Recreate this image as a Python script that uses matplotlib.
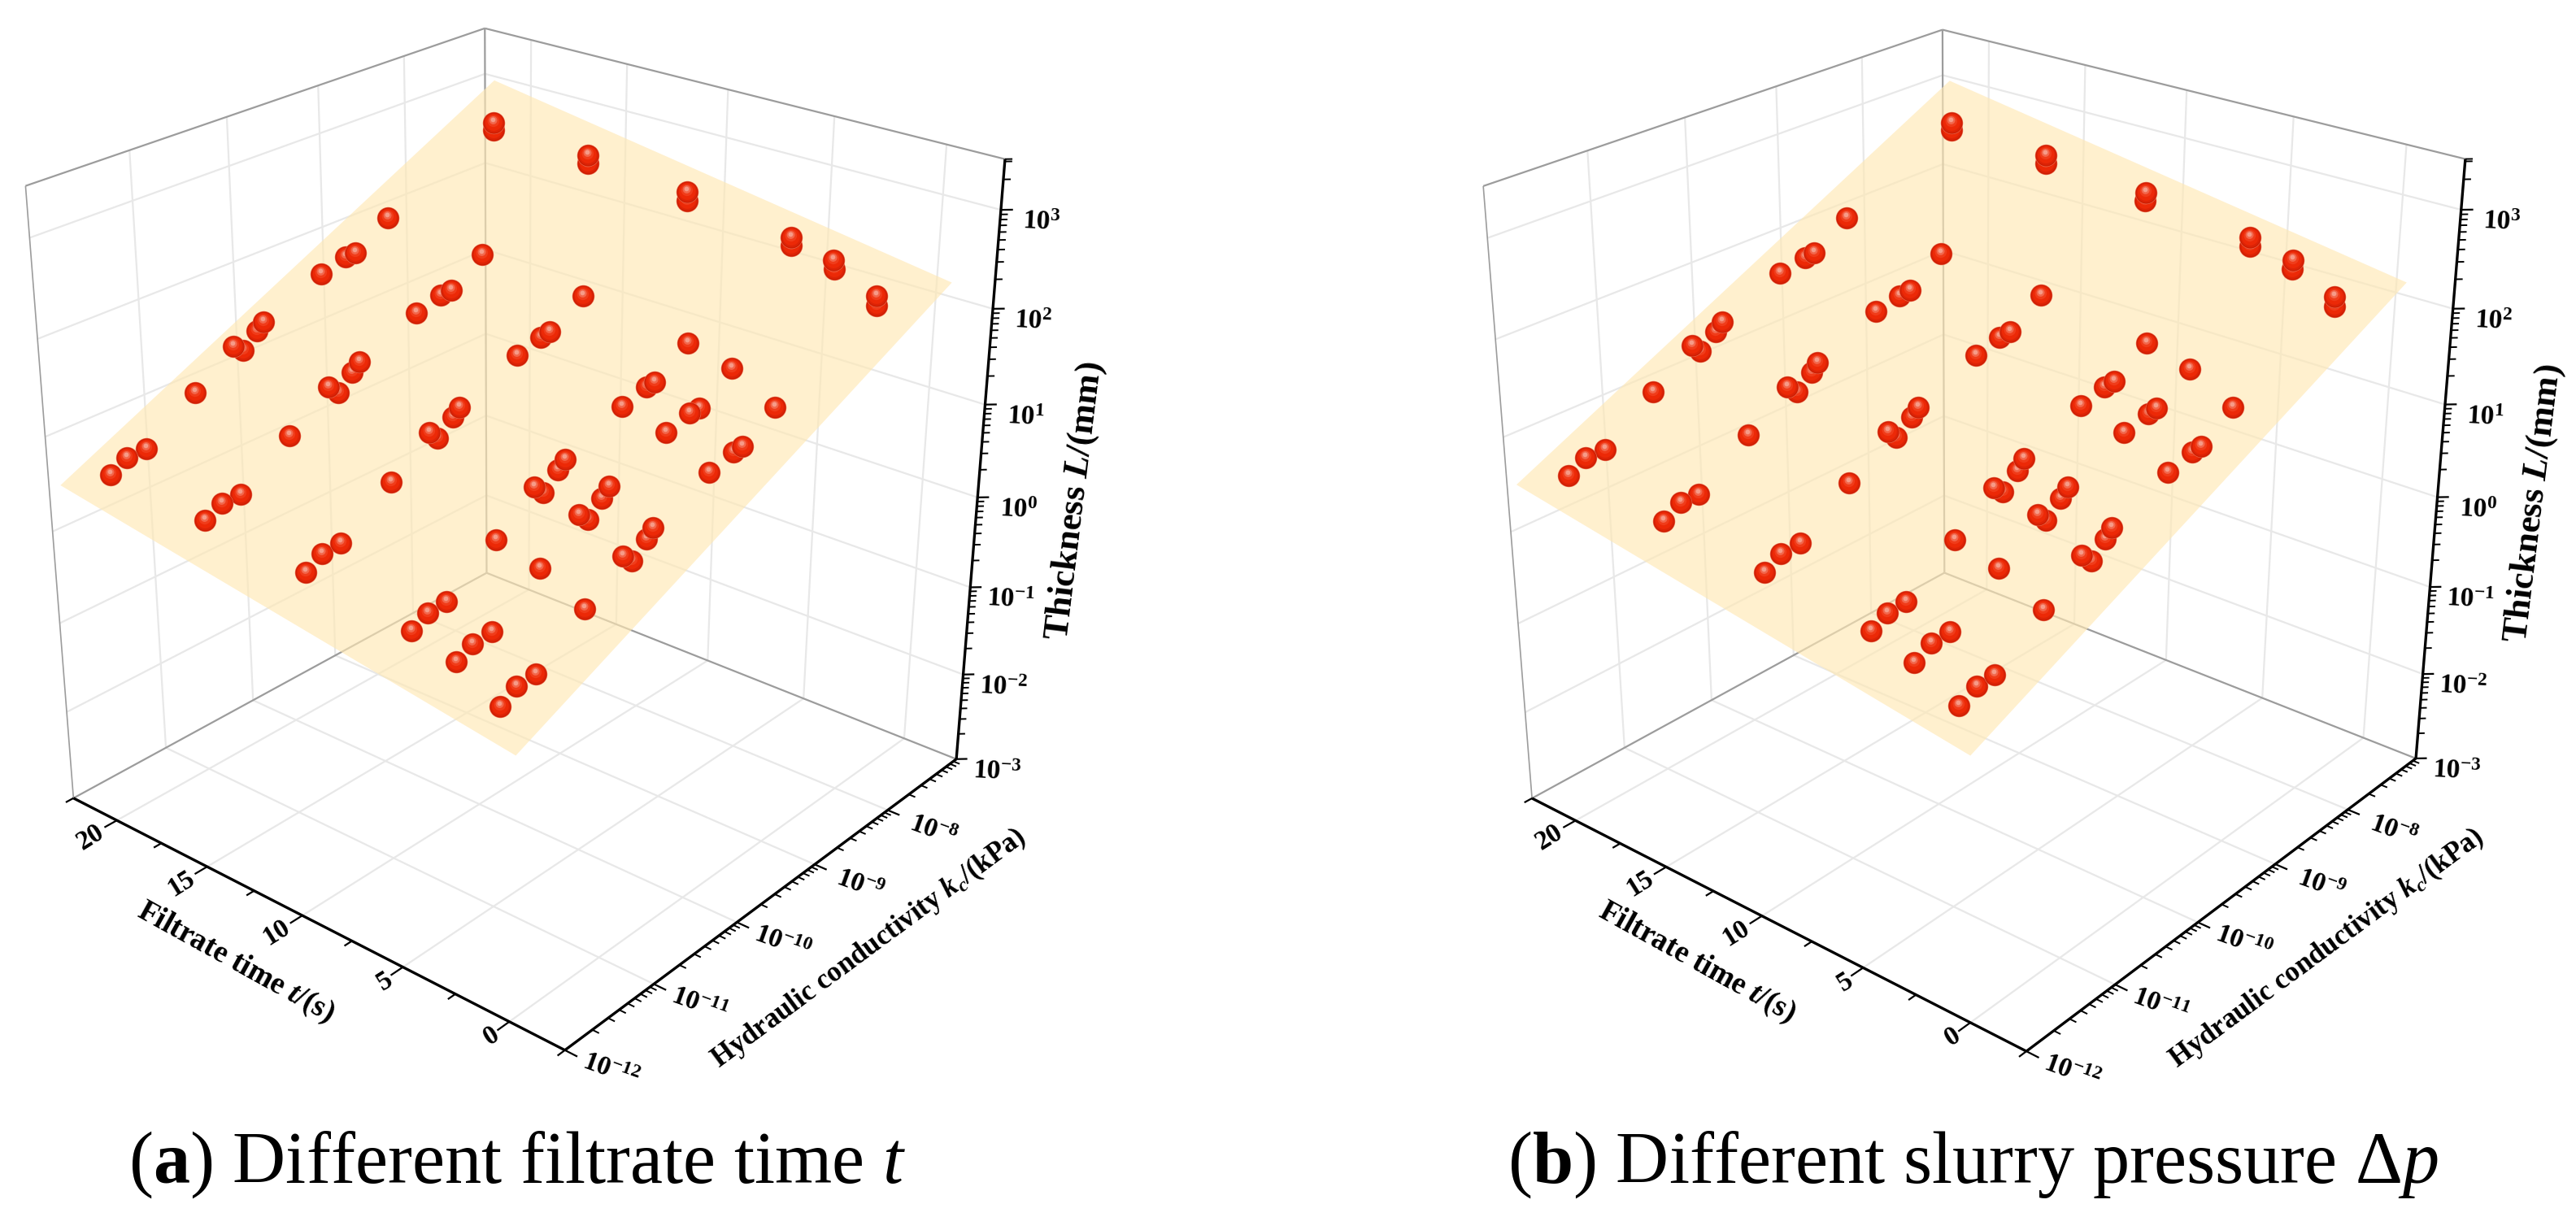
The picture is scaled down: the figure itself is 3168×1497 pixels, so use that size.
import numpy as np
import matplotlib
matplotlib.use('Agg')
import matplotlib.pyplot as plt
from matplotlib.path import Path
from mpl_toolkits.mplot3d import proj3d
from mpl_toolkits.mplot3d.art3d import Poly3DCollection

plt.rcParams['font.family'] = ['Liberation Serif', 'DejaVu Serif']
plt.rcParams['mathtext.fontset'] = 'custom'
plt.rcParams['mathtext.rm'] = 'Liberation Serif'
plt.rcParams['mathtext.it'] = 'Liberation Serif:italic'
plt.rcParams['mathtext.bf'] = 'Liberation Serif:bold'
plt.rcParams['mathtext.bfit'] = 'Liberation Serif:italic:bold'

W, H = 3168, 1497

# filtrate time of each row of the tables below (s)
time_s = [1, 3, 5, 10, 15, 20]

# log10 of hydraulic conductivity, panel a, one row per time
log_k_a = [
    [-7.52, -7.51, -8.79, -9.18, -9.29, -9.57, -10.22, -10.29, -10.55, -10.45, -10.97, -11.49, -11.69, -11.86],
    [-7.51, -7.50, -8.78, -9.17, -9.28, -9.56, -10.21, -10.29, -10.54, -10.44, -10.97, -11.48, -11.68, -11.85],
    [-7.51, -7.50, -8.79, -9.18, -9.28, -9.56, -10.21, -10.29, -10.55, -10.45, -10.96, -11.49, -11.68, -11.85],
    [-7.50, -7.49, -8.78, -9.17, -9.28, -9.55, -10.20, -10.27, -10.53, -10.44, -10.95, -11.48, -11.67, -11.84],
    [-7.49, -7.49, -8.78, -9.15, -9.27, -9.55, -10.19, -10.27, -10.53, -10.43, -10.95, -11.47, -11.66, -11.84],
    [-7.48, -7.48, -8.77, -9.15, -9.26, -9.54, -10.19, -10.26, -10.52, -10.42, -10.94, -11.46, -11.66, -11.83],
]
# log10 of thickness, panel a
log_l_a = [
    [2.10, 2.00, 1.50, 1.28, 1.27, 1.20, 0.96, 0.88, 0.84, 0.74, 0.53, 0.17, 0.16, 0.06],
    [2.33, 2.24, 1.74, 1.51, 1.51, 1.44, 1.20, 1.12, 1.08, 0.98, 0.76, 0.40, 0.39, 0.30],
    [2.44, 2.35, 1.86, 1.63, 1.62, 1.55, 1.31, 1.24, 1.19, 1.09, 0.87, 0.52, 0.51, 0.42],
    [2.60, 2.50, 2.00, 1.78, 1.77, 1.70, 1.45, 1.38, 1.34, 1.24, 1.03, 0.67, 0.66, 0.56],
    [2.69, 2.60, 2.10, 1.87, 1.86, 1.79, 1.54, 1.47, 1.43, 1.33, 1.11, 0.75, 0.75, 0.66],
    [2.75, 2.67, 2.17, 1.94, 1.93, 1.86, 1.61, 1.54, 1.49, 1.40, 1.18, 0.82, 0.82, 0.72],
]
log_k_b = [
    [-7.54, -7.53, -8.82, -9.20, -9.31, -9.60, -10.24, -10.31, -10.58, -10.47, -10.99, -11.51, -11.70, -11.88],
    [-7.52, -7.52, -8.81, -9.20, -9.30, -9.59, -10.23, -10.31, -10.56, -10.47, -10.99, -11.50, -11.70, -11.87],
    [-7.51, -7.51, -8.80, -9.19, -9.30, -9.58, -10.22, -10.30, -10.56, -10.46, -10.98, -11.50, -11.69, -11.86],
    [-7.50, -7.50, -8.79, -9.16, -9.28, -9.56, -10.21, -10.28, -10.54, -10.45, -10.96, -11.48, -11.68, -11.85],
    [-7.49, -7.49, -8.78, -9.15, -9.27, -9.54, -10.20, -10.26, -10.53, -10.43, -10.95, -11.48, -11.66, -11.84],
    [-7.48, -7.48, -8.76, -9.15, -9.25, -9.54, -10.19, -10.26, -10.52, -10.43, -10.94, -11.46, -11.65, -11.83],
]
log_l_b = [
    [2.10, 2.00, 1.51, 1.29, 1.28, 1.21, 0.97, 0.89, 0.86, 0.75, 0.54, 0.18, 0.17, 0.08],
    [2.34, 2.25, 1.75, 1.52, 1.51, 1.45, 1.20, 1.13, 1.09, 0.99, 0.77, 0.41, 0.41, 0.31],
    [2.44, 2.35, 1.86, 1.64, 1.63, 1.56, 1.32, 1.24, 1.19, 1.10, 0.88, 0.53, 0.52, 0.43],
    [2.60, 2.51, 2.01, 1.78, 1.77, 1.70, 1.45, 1.38, 1.35, 1.25, 1.03, 0.67, 0.67, 0.57],
    [2.70, 2.61, 2.11, 1.87, 1.86, 1.80, 1.54, 1.47, 1.43, 1.34, 1.12, 0.76, 0.76, 0.66],
    [2.76, 2.68, 2.17, 1.94, 1.93, 1.87, 1.61, 1.54, 1.50, 1.40, 1.19, 0.82, 0.82, 0.72],
]

# fitted plane corners (log k, time, log L)
plane_a = [(-6.88, 22.5, 2.89), (-11.89, 22.5, 0.44), (-12.53, -2.5, 0.32), (-7.62, -2.5, 2.51)]
plane_b = [(-6.91, 22.5, 2.91), (-11.91, 22.5, 0.46), (-12.60, -2.5, 0.37), (-7.70, -2.5, 2.54)]

# axis scales
k_lim = (-12, -7)
t_lim = (-2.5, 22.5)
l_lim = (-3, 3.5)
t_major = [0, 5, 10, 15, 20]
t_minor = [-2.5, 2.5, 7.5, 12.5, 17.5, 22.5]
k_major = [-12, -11, -10, -9, -8]
l_major = [-3, -2, -1, 0, 1, 2, 3]

GRID = '#e8e8e8'
EDGE = '#9c9c9c'

# ball shading: radius, centre offset, colour (outer to inner)
ball_layers = [
    (1.05, 0.00, 0.00, '#e8654a'),
    (1.00, 0.00, 0.00, '#cc1d02'),
    (0.92, 0.00, 0.02, '#dc2306'),
    (0.80, -0.02, 0.08, '#ec2907'),
    (0.56, -0.05, 0.20, '#f03c1a'),
    (0.38, -0.07, 0.27, '#f2674c'),
    (0.22, -0.08, 0.31, '#f69b88'),
]


def ball_markers(diam):
    # marker paths get rescaled by matplotlib, so work out the matching size
    out = []
    circle = Path.unit_circle()
    for r, cx, cy, col in ball_layers:
        v = circle.vertices * r + [cx, cy]
        out.append((Path(v, circle.codes), np.abs(v).max() * diam, col))
    return out


def minor_log(lo, hi):
    vals = []
    for d in range(int(np.floor(lo)), int(np.ceil(hi))):
        for m in range(2, 10):
            v = d + np.log10(m)
            if v < hi:
                vals.append(v)
    return vals


def draw_panel(pos, view, aspect, log_k, log_l, plane, tlabel_xy, klabel_xy, zlabel_xy, caption, caption_x):
    left, bottom, side = pos
    ax = fig.add_axes([left / W, bottom / H, side / W, side / H], projection='3d', computed_zorder=False)
    ax.set_axis_off()
    ax.patch.set_visible(False)
    ax.set_xlim(*k_lim)
    ax.set_ylim(*t_lim)
    ax.set_zlim(*l_lim)
    ax.set_box_aspect(aspect)
    ax.view_init(elev=view[0], azim=view[1], roll=view[2])
    ax.set_proj_type('persp', focal_length=view[3])
    k0, k1 = k_lim
    t0, t1 = t_lim
    l0, l1 = l_lim

    def line(xs, ys, zs, color, lw, z):
        ax.plot(xs, ys, zs, color=color, lw=lw, zorder=z, clip_on=False, solid_capstyle='butt')

    # grid on floor and back walls
    for k in k_major[1:]:
        line([k, k], [t0, t1], [l0, l0], GRID, 0.8, 1)
        line([k, k], [t1, t1], [l0, l1], GRID, 0.8, 1)
    for t in t_major:
        line([k0, k1], [t, t], [l0, l0], GRID, 0.8, 1)
        line([k1, k1], [t, t], [l0, l1], GRID, 0.8, 1)
    for z in l_major[1:]:
        line([k0, k1], [t1, t1], [z, z], GRID, 0.8, 1)
        line([k1, k1], [t0, t1], [z, z], GRID, 0.8, 1)

    # back box edges
    line([k0, k1], [t1, t1], [l0, l0], EDGE, 0.8, 2)
    line([k1, k1], [t0, t1], [l0, l0], EDGE, 0.8, 2)
    line([k1, k1], [t1, t1], [l0, l1], EDGE, 0.8, 2)
    line([k0, k0], [t1, t1], [l0, l1], EDGE, 0.6, 2)
    line([k0, k1], [t1, t1], [l1, l1], EDGE, 0.8, 2)
    line([k1, k1], [t0, t1], [l1, l1], EDGE, 0.8, 2)

    # fitted plane
    poly = Poly3DCollection([plane], facecolor='#ffe8b4', edgecolor='none', alpha=0.65, zorder=3)
    ax.add_collection3d(poly, autolim=False)

    # front axes
    line([k0, k0], [t0, t1], [l0, l0], 'black', 1.2, 4)
    line([k0, k1], [t0, t0], [l0, l0], 'black', 1.2, 4)
    line([k1, k1], [t0, t0], [l0, l1], 'black', 1.2, 4)
    for t in t_major:
        line([k0, k0 - 0.13], [t, t], [l0, l0], 'black', 0.8, 4)
    for t in t_minor:
        line([k0, k0 - 0.08], [t, t], [l0, l0], 'black', 0.8, 4)
    for k in k_major:
        line([k, k], [t0, t0 - 0.55], [l0, l0], 'black', 0.8, 4)
    for k in minor_log(*k_lim):
        line([k, k], [t0, t0 - 0.3], [l0, l0], 'black', 0.7, 4)
    for z in l_major:
        line([k1, k1 + 0.06], [t0, t0 - 0.33], [z, z], 'black', 0.8, 4)
    for z in minor_log(*l_lim) + [l1]:
        line([k1, k1 + 0.037], [t0, t0 - 0.2], [z, z], 'black', 0.7, 4)

    # balls, lower ones first so upper ones sit on top
    ks = np.ravel(log_k)
    ts = np.repeat(time_s, len(log_k[0]))
    ls = np.ravel(log_l)
    markers = ball_markers(9.4)
    for i in np.argsort(ls, kind='stable'):
        for path, size, col in markers:
            ax.plot([ks[i]], [ts[i]], [ls[i]], marker=path, ms=size, mfc=col, mec='none',
                    ls='none', zorder=5, clip_on=False)

    # tick labels
    M = ax.get_proj()

    def tick_label(x, y, z, text, dx, dy, rot):
        xn, yn, _ = proj3d.proj_transform(x, y, z, M)
        ax.annotate(text, xy=(xn, yn), xytext=(dx, dy), textcoords='offset pixels', ha='center', va='center',
                    rotation=rot, rotation_mode='anchor', fontsize=12, fontweight='bold', annotation_clip=False)

    for t in t_major:
        if t >= 10:
            tick_label(k0, t, l0, str(t), -32, -21, 32)
        else:
            tick_label(k0, t, l0, str(t), -22, -18, 32)
    for k in k_major:
        tick_label(k, t0, l0, r'$\mathbf{10^{%d}}$' % k, 56, -26, -20)
    for z in l_major:
        tick_label(k1, t0, z, r'$\mathbf{10^{%d}}$' % z, 50, -16, -3)

    # axis titles and caption sit in figure pixels
    fig.text(tlabel_xy[0] / W, 1 - tlabel_xy[1] / H, r'Filtrate time $\mathbfit{t}$/(s)', rotation=-29,
             ha='center', va='center', fontsize=13.5, fontweight='bold')
    fig.text(klabel_xy[0] / W, 1 - klabel_xy[1] / H, r'Hydraulic conductivity $\mathbfit{k}_{\mathbfit{c}}$/(kPa)',
             rotation=36.5, ha='center', va='center', fontsize=12.5, fontweight='bold')
    fig.text(zlabel_xy[0] / W, 1 - zlabel_xy[1] / H, r'Thickness $\mathbfit{L}$/(mm)', rotation=83,
             ha='center', va='center', fontsize=16, fontweight='bold')
    fig.text(caption_x / W, 1 - 1433 / H, caption, ha='center', va='center', fontsize=32.5)


fig = plt.figure(figsize=(W / 200, H / 200), dpi=200, facecolor='white')

draw_panel((-64.0, 188.1, 1372.6), (26.085, -140.053, -0.153, 0.4729), (0.9792, 0.9791, 1.0),
           log_k_a, log_l_a, plane_a, (290, 1184), (1068, 1166), (1322, 616),
           r'($\mathbf{a}$) Different filtrate time $\mathit{t}$', 636)
draw_panel((1730.05, 187.36, 1373.8), (26.008, -140.217, -0.159, 0.4638), (0.9812, 0.9833, 1.0),
           log_k_b, log_l_b, plane_b, (2087, 1184), (2861, 1166), (3116, 619),
           r'($\mathbf{b}$) Different slurry pressure Δ$\mathit{p}$', 2426)

fig.savefig('out.png', dpi=200)
